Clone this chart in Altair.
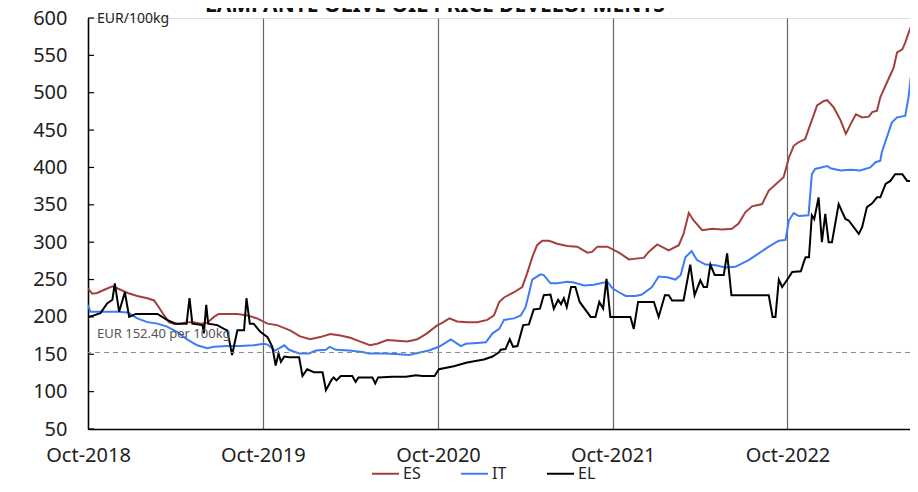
import altair as alt
import pandas as pd

FONT = "Noto Sans"

title_text = "LAMPANTE OLIVE OIL PRICE DEVELOPMENTS"
unit_label = "EUR/100kg"
ref_value = 152.4
ref_label = "EUR 152.40 per 100kg"
y_ticks = [50, 100, 150, 200, 250, 300, 350, 400, 450, 500, 550, 600]
series_names = ["ES", "IT", "EL"]
series_colors = ["#A33F3C", "#3D7BF7", "#000000"]

es_dates = ["2018-10-01", "2018-10-10", "2018-10-20", "2018-11-03", "2018-11-21", "2018-12-02", "2018-12-23",
            "2019-01-12", "2019-02-02", "2019-02-16", "2019-02-26", "2019-03-09", "2019-03-19", "2019-03-29",
            "2019-04-12", "2019-04-26", "2019-05-10", "2019-05-24", "2019-06-07", "2019-06-21", "2019-07-01",
            "2019-07-19", "2019-08-09", "2019-08-30", "2019-09-19", "2019-10-11", "2019-10-31", "2019-11-27",
            "2019-12-18", "2020-01-08", "2020-01-29", "2020-02-19", "2020-03-11", "2020-04-01", "2020-04-22",
            "2020-05-12", "2020-05-27", "2020-06-17", "2020-07-08", "2020-07-29", "2020-08-19", "2020-09-08",
            "2020-09-30", "2020-10-07", "2020-10-25", "2020-11-10", "2020-12-01", "2020-12-22", "2021-01-12",
            "2021-01-26", "2021-02-06", "2021-02-16", "2021-03-09", "2021-03-26", "2021-04-05", "2021-04-16",
            "2021-04-26", "2021-05-07", "2021-05-21", "2021-06-07", "2021-06-28", "2021-07-19", "2021-08-09",
            "2021-08-19", "2021-08-30", "2021-09-20", "2021-10-14", "2021-11-04", "2021-11-18", "2021-12-05",
            "2021-12-15", "2022-01-02", "2022-01-26", "2022-02-16", "2022-02-26", "2022-03-09", "2022-03-19",
            "2022-04-06", "2022-04-27", "2022-05-18", "2022-06-07", "2022-06-21", "2022-07-05", "2022-07-19",
            "2022-08-09", "2022-08-23", "2022-09-23", "2022-10-04", "2022-10-14", "2022-10-25", "2022-11-07",
            "2022-11-18", "2022-12-02", "2022-12-16", "2022-12-23", "2023-01-06", "2023-01-20", "2023-01-31",
            "2023-02-10", "2023-02-21", "2023-03-06", "2023-03-20", "2023-03-27", "2023-04-06", "2023-04-13",
            "2023-04-27", "2023-05-11", "2023-05-18", "2023-05-29", "2023-06-04", "2023-06-15", "2023-06-25",
            "2023-07-02"]
es_values = [238, 231, 232, 236, 241, 238, 232,
             228, 225, 222, 213, 202, 193, 191,
             191, 193, 193, 191, 192, 200, 204,
             204, 204, 202, 198, 191, 189, 182,
             174, 170, 173, 177, 175, 172, 167,
             162, 164, 169, 168, 167, 170, 178,
             189, 191, 198, 194, 193, 193, 196,
             202, 220, 226, 233, 240, 258, 280,
             296, 302, 302, 298, 295, 294, 286,
             287, 294, 294, 286, 277, 278, 279,
             287, 297, 289, 296, 311, 339, 329,
             316, 318, 317, 318, 325, 340, 348,
             351, 369, 387, 413, 429, 434, 438,
             458, 483, 489, 490, 480, 463, 445,
             458, 471, 467, 468, 474, 476, 494,
             514, 534, 554, 558, 567, 587, 600,
             612]

it_dates = ["2018-10-01", "2018-10-06", "2018-10-27", "2018-11-10", "2018-12-02", "2018-12-23", "2019-01-02",
            "2019-01-12", "2019-02-02", "2019-02-23", "2019-03-15", "2019-04-05", "2019-04-26", "2019-05-17",
            "2019-06-07", "2019-06-21", "2019-07-19", "2019-08-15", "2019-09-12", "2019-10-03", "2019-10-11",
            "2019-10-26", "2019-11-04", "2019-11-15", "2019-11-25", "2019-12-16", "2020-01-06", "2020-01-20",
            "2020-02-10", "2020-02-18", "2020-03-02", "2020-03-30", "2020-04-26", "2020-05-10", "2020-06-14",
            "2020-07-12", "2020-08-02", "2020-08-22", "2020-09-12", "2020-10-03", "2020-10-28", "2020-11-18",
            "2020-11-28", "2020-12-22", "2021-01-09", "2021-01-23", "2021-02-06", "2021-02-16", "2021-03-09",
            "2021-03-23", "2021-04-02", "2021-04-09", "2021-04-16", "2021-05-03", "2021-05-10", "2021-05-24",
            "2021-06-07", "2021-06-28", "2021-07-12", "2021-08-02", "2021-08-23", "2021-09-06", "2021-09-20",
            "2021-10-01", "2021-10-14", "2021-10-28", "2021-11-18", "2021-12-01", "2021-12-22", "2022-01-05",
            "2022-01-23", "2022-02-09", "2022-02-20", "2022-03-02", "2022-03-15", "2022-03-26", "2022-04-13",
            "2022-05-04", "2022-05-25", "2022-06-14", "2022-07-12", "2022-08-02", "2022-08-23", "2022-09-13",
            "2022-09-27", "2022-10-04", "2022-10-14", "2022-10-25", "2022-11-14", "2022-11-21", "2022-11-28",
            "2022-12-23", "2022-12-30", "2023-01-20", "2023-02-10", "2023-03-02", "2023-03-23", "2023-04-03",
            "2023-04-13", "2023-04-16", "2023-05-07", "2023-05-18", "2023-06-04", "2023-06-11", "2023-06-18",
            "2023-06-27", "2023-07-02"]
it_values = [216, 207, 207, 207, 207, 206, 202,
             198, 193, 191, 187, 180, 170, 162,
             158, 160, 161, 161, 162, 164, 163,
             155, 158, 162, 156, 151, 151, 155,
             156, 160, 156, 155, 153, 151, 151,
             150, 149, 152, 155, 160, 170, 161,
             164, 165, 166, 178, 184, 196, 198,
             202, 213, 231, 250, 257, 256, 245,
             245, 247, 246, 242, 243, 245, 247,
             238, 233, 228, 228, 230, 240, 254,
             253, 250, 256, 280, 288, 276, 270,
             269, 266, 267, 276, 285, 294, 302,
             303, 329, 339, 335, 336, 391, 398,
             402, 399, 396, 397, 396, 400, 407,
             409, 420, 460, 467, 469, 494, 534,
             567, 580]

el_dates = ["2018-10-01", "2018-10-13", "2018-10-27", "2018-11-10", "2018-11-21", "2018-11-26", "2018-12-05",
            "2018-12-17", "2018-12-26", "2019-01-09", "2019-02-23", "2019-03-15", "2019-04-02", "2019-04-25",
            "2019-05-01", "2019-05-07", "2019-05-28", "2019-05-31", "2019-06-05", "2019-06-09", "2019-06-28",
            "2019-07-12", "2019-07-19", "2019-07-29", "2019-08-09", "2019-08-23", "2019-08-28", "2019-09-04",
            "2019-09-12", "2019-09-26", "2019-10-11", "2019-10-21", "2019-10-28", "2019-11-03", "2019-11-08",
            "2019-11-15", "2019-11-25", "2019-12-16", "2019-12-23", "2020-01-02", "2020-01-16", "2020-02-03",
            "2020-02-10", "2020-02-21", "2020-02-26", "2020-03-03", "2020-03-12", "2020-04-05", "2020-04-12",
            "2020-04-18", "2020-05-17", "2020-05-23", "2020-05-29", "2020-06-28", "2020-07-26", "2020-08-16",
            "2020-08-30", "2020-09-24", "2020-10-03", "2020-11-03", "2020-12-01", "2021-01-05", "2021-01-23",
            "2021-02-06", "2021-02-09", "2021-02-19", "2021-02-28", "2021-03-07", "2021-03-16", "2021-03-28",
            "2021-04-09", "2021-04-19", "2021-05-02", "2021-05-10", "2021-05-24", "2021-05-31", "2021-06-09",
            "2021-06-15", "2021-06-21", "2021-06-27", "2021-07-06", "2021-07-15", "2021-07-24", "2021-08-16",
            "2021-08-26", "2021-09-03", "2021-09-11", "2021-09-18", "2021-09-26", "2021-11-07", "2021-11-14",
            "2021-11-23", "2021-12-26", "2022-01-05", "2022-01-18", "2022-01-26", "2022-02-02", "2022-02-26",
            "2022-03-12", "2022-03-21", "2022-04-02", "2022-04-09", "2022-04-16", "2022-04-23", "2022-05-02",
            "2022-05-21", "2022-05-28", "2022-06-06", "2022-08-23", "2022-08-31", "2022-09-06", "2022-09-13",
            "2022-09-20", "2022-10-04", "2022-10-11", "2022-10-29", "2022-11-05", "2022-11-08", "2022-11-15",
            "2022-11-21", "2022-11-26", "2022-12-05", "2022-12-12", "2022-12-19", "2022-12-26", "2023-01-02",
            "2023-01-16", "2023-01-30", "2023-02-06", "2023-02-27", "2023-03-06", "2023-03-16", "2023-03-27",
            "2023-04-06", "2023-04-13", "2023-04-24", "2023-05-04", "2023-05-14", "2023-05-29", "2023-06-08",
            "2023-06-15", "2023-06-22", "2023-06-27", "2023-07-02"]
el_values = [200, 202, 205, 218, 223, 245, 207,
             233, 200, 204, 204, 196, 191, 191,
             225, 191, 189, 178, 216, 191, 189,
             184, 182, 149, 182, 182, 225, 191,
             191, 180, 173, 160, 135, 151, 140,
             147, 146, 146, 121, 130, 126, 126,
             102, 115, 119, 115, 121, 121, 113,
             119, 119, 111, 119, 120, 120, 122,
             121, 121, 130, 134, 139, 143, 147,
             153, 156, 157, 170, 160, 161, 189,
             190, 210, 211, 229, 230, 211, 223,
             217, 225, 213, 240, 240, 220, 200,
             200, 220, 211, 251, 200, 200, 184,
             220, 220, 200, 229, 229, 222, 222,
             270, 229, 249, 240, 240, 270, 256,
             256, 285, 229, 229, 200, 200, 250,
             240, 253, 260, 261, 275, 280, 280,
             336, 331, 360, 300, 338, 300, 300,
             351, 331, 329, 311, 320, 347, 352,
             360, 360, 378, 382, 391, 391, 382,
             382, 393, 429, 435]

rows = []
for name, ds, vs in [("ES", es_dates, es_values), ("IT", it_dates, it_values), ("EL", el_dates, el_values)]:
    for d, v in zip(ds, vs):
        rows.append({"date": d, "price": v, "country": name})
df = pd.DataFrame(rows)

# plot area is 822 px wide (page x 88..910); the reference keeps 175 px per year
x_scale = alt.Scale(type="utc",
                    domain=[alt.DateTime(year=2018, month=10, date=1, utc=True),
                            alt.DateTime(year=2023, month=6, date=14, utc=True)])
y_scale = alt.Scale(domain=[50, 600], nice=False, zero=False)

x_axis = alt.Axis(
    values=[alt.DateTime(year=y, month=10, date=1, utc=True) for y in range(2018, 2023)],
    format="%b-%Y", title=None, labelFontSize=20, labelFont=FONT, labelColor="#222",
    tickSize=0, labelPadding=16, grid=True, gridColor="#666", gridWidth=1.2,
    domainColor="#000", domainWidth=1.5, labelFlush=False, labelOverlap=False,
)
y_axis = alt.Axis(
    values=y_ticks, title=None, labelFontSize=20, labelFont=FONT, labelColor="#222",
    tickSize=0, labelPadding=21, grid=False, domainColor="#000", domainWidth=1.5,
    labelOverlap=False, labelFlush=False, labelBound=False,
)

lines = alt.Chart(df).mark_line(strokeWidth=2, clip=True).encode(
    x=alt.X("date:T", scale=x_scale, axis=x_axis),
    y=alt.Y("price:Q", scale=y_scale, axis=y_axis),
    color=alt.Color(
        "country:N",
        scale=alt.Scale(domain=series_names, range=series_colors),
        sort=series_names,
        legend=alt.Legend(
            orient="none", legendX=283, legendY=441, direction="horizontal",
            symbolType="stroke", symbolSize=729, symbolStrokeWidth=2,
            labelFontSize=16, labelFont=FONT, labelColor="#222", labelOffset=3,
            columnPadding=36, title=None,
        ),
    ),
    order=alt.Order("date:T"),
)

ref_df = pd.DataFrame({"v": [ref_value], "t": [ref_label]})
ref_rule = alt.Chart(ref_df).mark_rule(color="#888", strokeDash=[5, 4], strokeWidth=1).encode(
    y=alt.Y("v:Q", scale=y_scale, axis=y_axis)
)
ref_text = alt.Chart(ref_df).mark_text(
    align="left", baseline="middle", dy=-18, fontSize=13, font=FONT, color="#555"
).encode(x=alt.value(9), y=alt.Y("v:Q", scale=y_scale, axis=y_axis), text="t:N")

tick_df = pd.DataFrame({"v": y_ticks})
y_tick_marks = alt.Chart(tick_df).mark_rule(color="#000", strokeWidth=1.2).encode(
    y=alt.Y("v:Q", scale=y_scale, axis=y_axis), x=alt.value(0), x2=alt.value(6)
)

unit_text = alt.Chart(pd.DataFrame({"t": [unit_label]})).mark_text(
    align="left", baseline="middle", fontSize=14, font=FONT, color="#222"
).encode(x=alt.value(9), y=alt.value(1), text="t:N")

title_mark = alt.Chart(pd.DataFrame({"t": [title_text]})).mark_text(
    align="center", baseline="alphabetic", fontSize=21, fontWeight="bold", font=FONT, color="#111"
).encode(x=alt.value(347), y=alt.value(-6), text="t:N")

chart = alt.layer(
    lines, ref_rule, y_tick_marks, ref_text, unit_text, title_mark
).properties(
    width=822, height=411,
    autosize=alt.AutoSizeParams(type="none"),
    padding={"left": 80, "top": 10, "right": 0, "bottom": 55},
).configure_view(stroke=None).configure(font=FONT)

chart.save("out.html", embed_options={"renderer": "svg", "actions": False})
